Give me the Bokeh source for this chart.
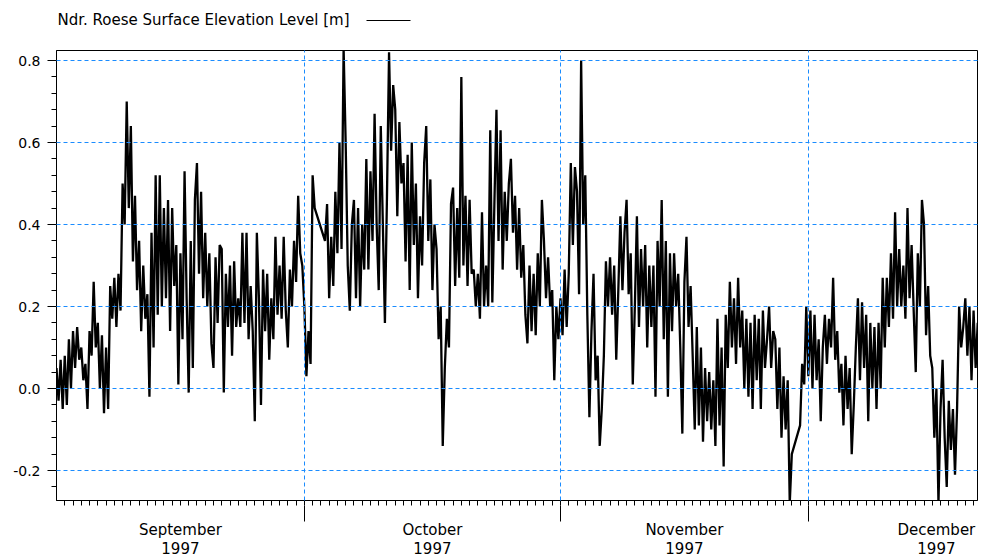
import numpy as np
import pandas as pd
from bokeh.plotting import figure
from bokeh.layouts import column
from bokeh.models import (FixedTicker, Range1d, PrintfTickFormatter, ColumnDataSource, LinearAxis)
from bokeh.core.properties import value
from bokeh.embed import file_html
from bokeh.resources import INLINE

series_name = "Ndr. Roese Surface Elevation Level [m]"
step_hours = 6

# segment 1: 1 Sep 1997 00:00, 6-hourly readings (m)
seg1_start = "1997-09-01 00:00"
seg1_level = [
    0.05, -0.03, 0.07, -0.05,   0.08, -0.04, 0.12, 0.00,   0.14, 0.05, 0.15, 0.07,
    0.10, 0.02, 0.06, -0.05,    0.14, 0.08, 0.26, 0.10,    0.16, 0.00, 0.13, -0.06,
    0.10, -0.05, 0.25, 0.17,    0.27, 0.15, 0.28, 0.19,    0.50, 0.40, 0.70, 0.44,
    0.64, 0.31, 0.47, 0.24,     0.36, 0.14, 0.30, 0.17,    0.23, -0.02, 0.38, 0.10,
    0.52, 0.18, 0.52, 0.20,     0.44, 0.22, 0.46, 0.14,    0.44, 0.25, 0.35, 0.01,
    0.33, 0.12, 0.53, 0.22,     -0.01, 0.36, 0.05, 0.46,   0.55, 0.28, 0.48, 0.22,
    0.38, 0.20, 0.33, 0.11,     0.05, 0.32, 0.16, 0.35,    0.34, -0.01, 0.28, 0.15,
    0.30, 0.08, 0.31, 0.15,     0.22, 0.15, 0.38, 0.16,    0.38, 0.12, 0.25, 0.14,
    -0.08, 0.38, 0.22, -0.04,   0.29, 0.14, 0.28, 0.07,    0.22, 0.12, 0.37, 0.18,
    0.30, 0.17, 0.37, 0.19,     0.10, 0.29, 0.20, 0.36,    0.26, 0.47, 0.33, 0.30,
    0.20, 0.03, 0.14, 0.06,     0.52, 0.44,
]

# segment 2: 3 Oct 1997 12:00, 6-hourly readings (m)
seg2_start = "1997-10-03 12:00"
seg2_level = [
    0.36, 0.45,
    0.22, 0.37, 0.25, 0.48,     0.33, 0.60, 0.34, 0.83,    0.60, 0.30, 0.19, 0.40,
    0.46, 0.22, 0.44, 0.20,     0.40, 0.29, 0.56, 0.29,    0.53, 0.36, 0.67, 0.40,
    0.24, 0.64, 0.40, 0.16,     0.47, 0.82, 0.58, 0.74,    0.68, 0.42, 0.65, 0.50,
    0.55, 0.31, 0.57, 0.24,     0.60, 0.35, 0.50, 0.22,    0.42, 0.30, 0.55, 0.64,
    0.36, 0.51, 0.24, 0.40,     0.34, 0.12, 0.20, -0.14,   0.05, 0.17, 0.10, 0.45,
    0.49, 0.25, 0.44, 0.27,     0.76, 0.30, 0.47, 0.25,    0.46, 0.28, 0.29, 0.20,
    0.28, 0.17, 0.43, 0.20,     0.30, 0.20, 0.63, 0.21,    0.45, 0.68, 0.36, 0.63,
    0.29, 0.48, 0.36, 0.50,     0.56, 0.38, 0.47, 0.29,    0.44, 0.27, 0.35, 0.18,
    0.11, 0.30, 0.14, 0.28,     0.13, 0.33, 0.20, 0.46,    0.36, 0.22, 0.32, 0.20,
    0.24, 0.02, 0.20, 0.12,     0.22, 0.13, 0.29, 0.15,    0.28, 0.55, 0.35, 0.54,
    0.48, 0.23, 0.80, 0.40,     0.52, 0.18, -0.07, 0.14,   0.28, 0.02, 0.08, -0.14,
    -0.05, 0.08, 0.31, 0.20,    0.32, 0.18, 0.30, 0.07,    0.24, 0.42, 0.24, 0.38,
    0.46, 0.23, 0.33, 0.01,     0.20, 0.42, 0.15, 0.34,    0.20, 0.35, 0.10, 0.30,
    0.15, 0.30, -0.02, 0.36,    0.20, 0.46, 0.12, 0.36,    -0.02, 0.33, 0.14, 0.33,
    0.20, 0.28, 0.10, -0.11,    0.26, 0.37, 0.15, 0.25,    0.08, -0.10, 0.15, -0.09,
    0.10, -0.13, 0.05, -0.08,   0.04, -0.10, 0.02, -0.14,  0.17, -0.09, 0.10, -0.19,
    0.18, 0.05, 0.26, 0.10,     0.22, 0.06, 0.27, 0.10,    0.19, 0.00, 0.17, -0.02,
    0.16, -0.05, 0.18, 0.02,    0.17, -0.05, 0.19, 0.05,   0.12, 0.20, 0.05, 0.14,
    0.12, -0.05, 0.10, -0.12,   0.03, -0.10, 0.02, -0.28,
    -0.16,
]

# segment 3: 30 Nov 1997 00:00, 6-hourly readings (m)
seg3_start = "1997-11-30 00:00"
seg3_level = [
    -0.09, 0.06, 0.01, 0.20,    0.03, 0.19, 0.00, 0.18,    0.02, 0.12, -0.08, 0.10,
    0.18, 0.06, 0.17, 0.10,     0.27, 0.07, 0.14, -0.01,   0.06, -0.09, 0.08, -0.05,
    0.05, -0.16, -0.04, 0.10,   0.22, 0.02, 0.21, 0.05,    0.18, -0.08, 0.16, 0.00,
    0.15, -0.05, 0.16, 0.00,    0.27, 0.10, 0.27, 0.15,    0.33, 0.17, 0.43, 0.20,
    0.34, 0.20, 0.30, 0.17,     0.44, 0.22, 0.35, 0.19,    0.04, 0.33, 0.20, 0.46,
    0.40, 0.13, 0.25, 0.08,     0.05, -0.12, 0.00, -0.28,  -0.05, 0.07, -0.12, -0.24,
    -0.03, -0.15, -0.05, -0.21, -0.05, 0.20, 0.10, 0.15,   0.22, 0.08, 0.20, 0.02,
    0.19, 0.05, 0.16,
]

month_starts = ["1997-10-01", "1997-11-01", "1997-12-01"]
month_names = ["September", "October", "November", "December"]
month_mids = ["1997-09-16 00:00", "1997-10-16 12:00", "1997-11-16 00:00", "1997-12-16 12:00"]
year_text = "1997"
y_ticks = [-0.2, 0.0, 0.2, 0.4, 0.6, 0.8]

x_start, x_end = "1997-09-01 00:00", "1997-12-21 11:23"
y_max = 0.8 + 10 / 410
y_min = y_max - 450 / 410

# ---------------------------------------------------------------------------
T0 = pd.Timestamp(x_start)
FONT = "DejaVu Sans"
GRID = "#1a8cff"
W = 981
FL, FW, FH = 56, 921, 450   # frame left / width / height in page pixels

def ms(t):
    return pd.Timestamp(t).value / 1e6

def halfdays(t):
    # position in half-day units since the range start (used by the label axes)
    return int(round((pd.Timestamp(t) - T0) / pd.Timedelta(hours=12)))

times, levels = [], []
for start, vals in ((seg1_start, seg1_level), (seg2_start, seg2_level), (seg3_start, seg3_level)):
    times.extend(pd.date_range(start, periods=len(vals), freq=f"{step_hours}h"))
    levels.extend(vals)
src = ColumnDataSource(dict(t=times, level=levels))

# ---- header strip holding the legend (text followed by its line sample) ----
HH = 48
head = figure(width=W, height=HH, x_range=Range1d(FL, FL + FW), y_range=Range1d(HH, 0),
              x_axis_location=None, y_axis_location=None, min_border=0,
              min_border_left=FL, min_border_right=W - FL - FW,
              output_backend="svg", toolbar_location=None)
head.outline_line_color = None
head.background_fill_color = "white"
head.border_fill_color = "white"
head.grid.visible = False
head.text(x=[57], y=[19], text=[series_name], text_font=value(FONT), text_font_size="15px",
          text_align="left", text_baseline="middle", text_color="black")
head.line(x=[366, 410], y=[20, 20], line_color="black", line_width=1)

# ---- main chart ----
p = figure(x_axis_type="datetime", x_axis_location=None,
           frame_width=FW, frame_height=FH,
           min_border_left=FL, min_border_right=W - FL - FW, min_border_top=2, min_border_bottom=58,
           x_range=Range1d(ms(x_start), ms(x_end)), y_range=Range1d(y_min, y_max),
           output_backend="svg", toolbar_location=None)
p.background_fill_color = "white"
p.border_fill_color = "white"
p.outline_line_color = "black"
p.outline_line_width = 1
p.extra_x_ranges = {"hd": Range1d(0, (pd.Timestamp(x_end) - T0) / pd.Timedelta(hours=12))}

p.line("t", "level", source=src, line_color="black", line_width=2.3)

day_ticks = [halfdays(d) for d in pd.date_range("1997-09-02", "1997-12-21", freq="D")]
start_ticks = [halfdays(m) for m in month_starts]
mid_ticks = [halfdays(m) for m in month_mids]

# axis A: daily minor ticks
ax_a = LinearAxis(x_range_name="hd", ticker=FixedTicker(ticks=[], minor_ticks=day_ticks))
ax_a.major_tick_out = 0
ax_a.major_tick_in = 0
ax_a.minor_tick_out = 5
ax_a.minor_tick_in = 0
ax_a.major_label_standoff = 0
ax_a.axis_line_color = "black"
p.add_layout(ax_a, "below")

# axis B: month names, long ticks at month boundaries
ax_b = LinearAxis(x_range_name="hd", ticker=FixedTicker(ticks=mid_ticks, minor_ticks=start_ticks))
ax_b.major_label_overrides = {t: n for t, n in zip(mid_ticks, month_names)}
ax_b.major_tick_out = 0
ax_b.major_tick_in = 0
ax_b.major_tick_line_color = None
ax_b.minor_tick_out = 16
ax_b.minor_tick_in = 0
ax_b.minor_tick_line_color = "black"
ax_b.axis_line_color = None
ax_b.major_label_standoff = -1
ax_b.major_label_text_font = FONT
ax_b.major_label_text_font_size = "15px"
ax_b.major_label_text_color = "black"
p.add_layout(ax_b, "below")

# axis C: year
ax_c = LinearAxis(x_range_name="hd", ticker=FixedTicker(ticks=mid_ticks, minor_ticks=[]))
ax_c.major_label_overrides = {t: year_text for t in mid_ticks}
ax_c.major_tick_out = 0
ax_c.major_tick_in = 0
ax_c.major_tick_line_color = None
ax_c.minor_tick_line_color = None
ax_c.axis_line_color = None
ax_c.major_label_standoff = 0
ax_c.major_label_text_font = FONT
ax_c.major_label_text_font_size = "15px"
ax_c.major_label_text_color = "black"
p.add_layout(ax_c, "below")

ya = p.yaxis[0]
ya.ticker = FixedTicker(ticks=y_ticks, minor_ticks=list(np.round(np.arange(-0.28, 0.81, 0.04), 2)))
ya.formatter = PrintfTickFormatter(format="%.1f")
ya.major_tick_out = 9
ya.major_tick_in = 0
ya.minor_tick_out = 5
ya.minor_tick_in = 0
ya.major_label_standoff = 7
ya.major_label_text_font = FONT
ya.major_label_text_font_size = "14px"
ya.major_label_text_color = "black"
ya.axis_line_color = "black"

p.xgrid.ticker = FixedTicker(ticks=[ms(m) for m in month_starts])
p.ygrid.ticker = FixedTicker(ticks=y_ticks)
for g in (p.xgrid[0], p.ygrid[0]):
    g.grid_line_color = GRID
    g.grid_line_dash = "4 3"
    g.grid_line_width = 1
    g.level = "annotation"

layout = column(head, p, spacing=0)
open("out.html", "w").write(file_html(layout, INLINE))
